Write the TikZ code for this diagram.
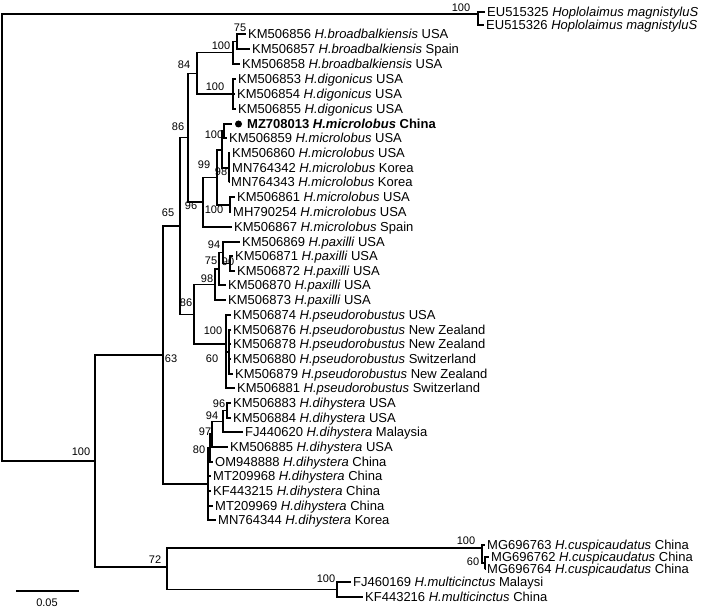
\documentclass[tikz,border=0pt]{standalone}
\usepackage{fontspec}
\setmainfont{Liberation Sans}
\begin{document}
\begin{tikzpicture}[x=1pt,y=-1pt,
  br/.style={line width=1.3pt, black},
  leaf/.style={anchor=west, inner xsep=2.5pt, inner ysep=0pt, text height=9.3pt, text depth=0pt, font=\fontsize{13}{15}\selectfont},
  bs/.style={inner sep=0pt, font=\fontsize{11}{12}\selectfont}]
\useasboundingbox (0,0) rectangle (708,609);

% ---------- internal nodes (x of vertical bar, y of stem) ----------
\coordinate (root) at (2,237);
\coordinate (og) at (478,14);
\coordinate (n100) at (95,461);
\coordinate (n63) at (163,355);
\coordinate (n65) at (180,225.9);
\coordinate (n86a) at (188,137.5);
\coordinate (n84) at (197,73.5);
\coordinate (nBB) at (233,52.8);
\coordinate (n75) at (237,41.5);
\coordinate (nDG) at (233,94);
\coordinate (n96) at (203,202);
\coordinate (n99) at (217,177.5);
\coordinate (n98m) at (222,150);
\coordinate (nMZ) at (224,131);
\coordinate (nMi3) at (229,168);
\coordinate (nMib) at (230,205);
\coordinate (n86b) at (194,314.2);
\coordinate (n98p) at (215,284.4);
\coordinate (n75p) at (219,268.9);
\coordinate (n94p) at (223,252.8);
\coordinate (n90p) at (230,263.5);
\coordinate (nPS) at (226,344);
\coordinate (n60ps) at (229,352);
\coordinate (nDH) at (208,484);
\coordinate (n80) at (210,448);
\coordinate (n97) at (212,434.1);
\coordinate (n94d) at (223,421.3);
\coordinate (n96d) at (227,410.5);
\coordinate (n72) at (167,567);
\coordinate (nCU) at (482,548);
\coordinate (n60cu) at (485,563);
\coordinate (nMU) at (337,589.5);

% ---------- leaves ----------
\node[leaf] (O1) at (484.5,12) {EU515325 \textit{Hoplolaimus magnistyluS}};
\node[leaf] (O2) at (483.5,25) {EU515326 \textit{Hoplolaimus magnistyluS}};
\node[leaf] (L1) at (245.5,34) {KM506856 \textit{H.broadbalkiensis} USA};
\node[leaf] (L2) at (249.5,49) {KM506857 \textit{H.broadbalkiensis} Spain};
\node[leaf] (L3) at (239.5,64) {KM506858 \textit{H.broadbalkiensis} USA};
\node[leaf] (L4) at (235.5,79) {KM506853 \textit{H.digonicus} USA};
\node[leaf] (L5) at (234.5,94) {KM506854 \textit{H.digonicus} USA};
\node[leaf] (L6) at (235.5,109) {KM506855 \textit{H.digonicus} USA};
\node[circle, fill=black, inner sep=0pt, minimum size=7pt, outer sep=3pt] (bul) at (238.5,124) {};
\node[leaf] (L7) at (244.5,124) {\textbf{MZ708013 \textit{H.microlobus} China}};
\node[leaf] (L8) at (226.5,138) {KM506859 \textit{H.microlobus} USA};
\node[leaf] (L9) at (229.5,153) {KM506860 \textit{H.microlobus} USA};
\node[leaf] (L10) at (229.5,168) {MN764342 \textit{H.microlobus} Korea};
\node[leaf] (L11) at (228.5,182) {MN764343 \textit{H.microlobus} Korea};
\node[leaf] (L12) at (234.5,197) {KM506861 \textit{H.microlobus} USA};
\node[leaf] (L13) at (230.5,212) {MH790254 \textit{H.microlobus} USA};
\node[leaf] (L14) at (231.5,227) {KM506867 \textit{H.microlobus} Spain};
\node[leaf] (L15) at (239.5,242) {KM506869 \textit{H.paxilli} USA};
\node[leaf] (L16) at (232.5,256) {KM506871 \textit{H.paxilli} USA};
\node[leaf] (L17) at (234.5,271) {KM506872 \textit{H.paxilli} USA};
\node[leaf] (L18) at (225.5,285) {KM506870 \textit{H.paxilli} USA};
\node[leaf] (L19) at (225.5,300) {KM506873 \textit{H.paxilli} USA};
\node[leaf] (L20) at (230.5,315) {KM506874 \textit{H.pseudorobustus} USA};
\node[leaf] (L21) at (230.5,330) {KM506876 \textit{H.pseudorobustus} New Zealand};
\node[leaf] (L22) at (230.5,344) {KM506878 \textit{H.pseudorobustus} New Zealand};
\node[leaf] (L23) at (230.5,359) {KM506880 \textit{H.pseudorobustus} Switzerland};
\node[leaf] (L24) at (232.5,374) {KM506879 \textit{H.pseudorobustus} New Zealand};
\node[leaf] (L25) at (234.5,388) {KM506881 \textit{H.pseudorobustus} Switzerland};
\node[leaf] (L26) at (230.5,403) {KM506883 \textit{H.dihystera} USA};
\node[leaf] (L27) at (230.5,418) {KM506884 \textit{H.dihystera} USA};
\node[leaf] (L28) at (242.5,432) {FJ440620 \textit{H.dihystera} Malaysia};
\node[leaf] (L29) at (227.5,447) {KM506885 \textit{H.dihystera} USA};
\node[leaf] (L30) at (212.5,462) {OM948888 \textit{H.dihystera} China};
\node[leaf] (L31) at (210.5,476) {MT209968 \textit{H.dihystera} China};
\node[leaf] (L32) at (210.5,491) {KF443215 \textit{H.dihystera} China};
\node[leaf] (L33) at (212.5,506) {MT209969 \textit{H.dihystera} China};
\node[leaf] (L34) at (215.5,520) {MN764344 \textit{H.dihystera} Korea};
\node[leaf] (L35) at (484.5,545) {MG696763 \textit{H.cuspicaudatus} China};
\node[leaf] (L36) at (488.5,557) {MG696762 \textit{H.cuspicaudatus} China};
\node[leaf] (L37) at (484.5,569) {MG696764 \textit{H.cuspicaudatus} China};
\node[leaf] (L38) at (350.5,582) {FJ460169 \textit{H.multicinctus} Malaysi};
\node[leaf] (L39) at (362.5,597) {KF443216 \textit{H.multicinctus} China};

% ---------- branches ----------
\draw[br] (root) |- (og);
\draw[br] (root) |- (n100);
\draw[br] (og) |- (O1.west);
\draw[br] (og) |- (O2.west);
\draw[br] (n100) |- (n63);
\draw[br] (n100) |- (n72);
\draw[br] (n63) |- (n65);
\draw[br] (n63) |- (nDH);
\draw[br] (n65) |- (n86a);
\draw[br] (n65) |- (n86b);
\draw[br] (n86a) |- (n84);
\draw[br] (n86a) |- (n96);
\draw[br] (n84) |- (nBB);
\draw[br] (n84) |- (nDG);
\draw[br] (nBB) |- (n75);
\draw[br] (nBB) |- (L3.west);
\draw[br] (n75) |- (L1.west);
\draw[br] (n75) |- (L2.west);
\draw[br] (nDG) |- (L4.west);
\draw[br] (nDG) |- (L5.west);
\draw[br] (nDG) |- (L6.west);
\draw[br] (n96) |- (n99);
\draw[br] (n96) |- (L14.west);
\draw[br] (n99) |- (n98m);
\draw[br] (n99) |- (nMib);
\draw[br] (n98m) |- (nMZ);
\draw[br] (n98m) |- (nMi3);
\draw[br] (nMZ) |- (bul.west);
\draw[br] (nMZ) |- (L8.west);
\draw[br] (nMi3) |- (L9.west);
\draw[br] (nMi3) |- (L10.west);
\draw[br] (nMi3) |- (L11.west);
\draw[br] (nMib) |- (L12.west);
\draw[br] (nMib) |- (L13.west);
\draw[br] (n86b) |- (n98p);
\draw[br] (n86b) |- (nPS);
\draw[br] (n98p) |- (n75p);
\draw[br] (n98p) |- (L19.west);
\draw[br] (n75p) |- (n94p);
\draw[br] (n75p) |- (L18.west);
\draw[br] (n94p) |- (L15.west);
\draw[br] (n94p) |- (n90p);
\draw[br] (n90p) |- (L16.west);
\draw[br] (n90p) |- (L17.west);
\draw[br] (nPS) |- (L20.west);
\draw[br] (nPS) |- (n60ps);
\draw[br] (nPS) |- (L25.west);
\draw[br] (n60ps) |- (L21.west);
\draw[br] (n60ps) |- (L22.west);
\draw[br] (n60ps) |- (L23.west);
\draw[br] (n60ps) |- (L24.west);
\draw[br] (nDH) |- (n80);
\draw[br] (nDH) |- (L31.west);
\draw[br] (nDH) |- (L32.west);
\draw[br] (nDH) |- (L33.west);
\draw[br] (nDH) |- (L34.west);
\draw[br] (n80) |- (n97);
\draw[br] (n80) |- (L30.west);
\draw[br] (n97) |- (n94d);
\draw[br] (n97) |- (L29.west);
\draw[br] (n94d) |- (n96d);
\draw[br] (n94d) |- (L28.west);
\draw[br] (n96d) |- (L26.west);
\draw[br] (n96d) |- (L27.west);
\draw[br] (n72) |- (nCU);
\draw[br] (n72) |- (nMU);
\draw[br] (nCU) |- (L35.west);
\draw[br] (nCU) |- (n60cu);
\draw[br] (n60cu) |- (L36.west);
\draw[br] (n60cu) |- (L37.west);
\draw[br] (nMU) |- (L38.west);
\draw[br] (nMU) |- (L39.west);

% ---------- bootstrap values ----------
\node[bs] (b1) at (461,8) {100};
\node[bs] (b2) at (240,28) {75};
\node[bs] (b3) at (221,46) {100};
\node[bs] (b4) at (184,65) {84};
\node[bs] (b5) at (215,87) {100};
\node[bs] (b6) at (178,127) {86};
\node[bs] (b7) at (214,135) {100};
\node[bs] (b8) at (204,165) {99};
\node[bs] (b9) at (221,172) {98};
\node[bs] (b10) at (191,206) {96};
\node[bs] (b11) at (214,210) {100};
\node[bs] (b12) at (168,213) {65};
\node[bs] (b13) at (214,245) {94};
\node[bs] (b14) at (211,261) {75};
\node[bs] (b15) at (228,262) {90};
\node[bs] (b16) at (207,279) {98};
\node[bs] (b17) at (186,303) {86};
\node[bs] (b18) at (213,331) {100};
\node[bs] (b19) at (212,359) {60};
\node[bs] (b20) at (171,359) {63};
\node[bs] (b21) at (81,452) {100};
\node[bs] (b22) at (219,404) {96};
\node[bs] (b23) at (212,416) {94};
\node[bs] (b24) at (205,432) {97};
\node[bs] (b25) at (199,450) {80};
\node[bs] (b26) at (155,560) {72};
\node[bs] (b27) at (466,541) {100};
\node[bs] (b28) at (473,562) {60};
\node[bs] (b29) at (326,579) {100};

% ---------- scale bar ----------
\coordinate (sb1) at (16,591);
\coordinate (sb2) at (79,591);
\draw[br] (sb1) -- (sb2);
\node[bs] (sbl) at (47,603) {0.05};
\end{tikzpicture}
\end{document}
